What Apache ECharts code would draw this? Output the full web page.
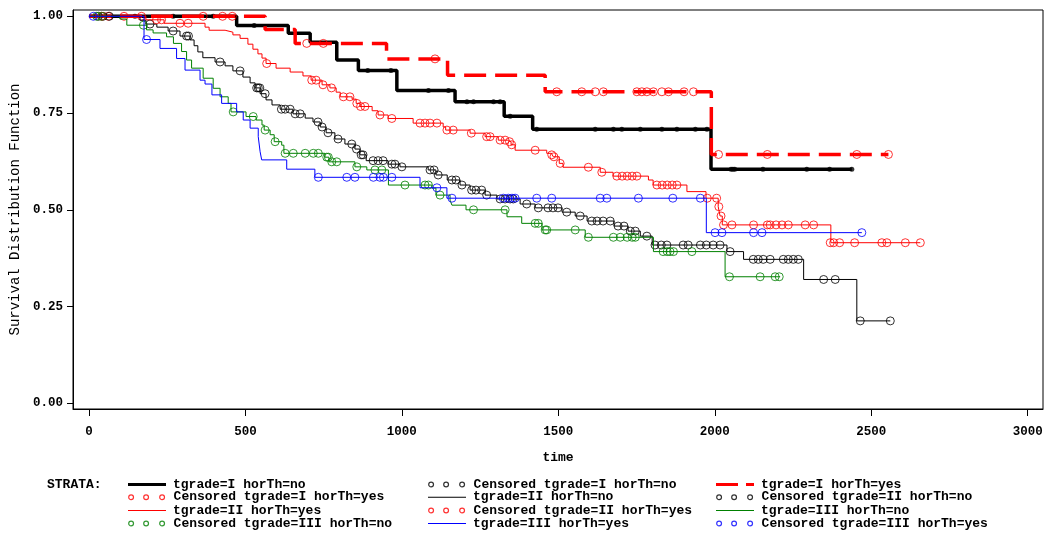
<!DOCTYPE html>
<html><head><meta charset="utf-8">
<script src="https://cdn.jsdelivr.net/npm/echarts@6/dist/echarts.min.js"></script>
<style>html,body{margin:0;padding:0;background:#fff}#c{width:1048px;height:534px}</style>
</head><body><div id="c"></div>
<script>
// ---- tick labels ----
const timeTicks = [0, 500, 1000, 1500, 2000, 2500, 3000];
const survTicks = [0, 0.25, 0.5, 0.75, 1];

// ---- strata names ----
const strata = ['tgrade=I horTh=no', 'tgrade=I horTh=yes', 'tgrade=II horTh=no',
                'tgrade=II horTh=yes', 'tgrade=III horTh=no', 'tgrade=III horTh=yes'];

// ---- KM step curves: [time, survival after the drop] ----
const curveIno = [[0,1],[472,0.976],[637,0.956],[707,0.933],[792,0.887],[861,0.860],[984,0.808],[1170,0.779],[1327,0.742],[1418,0.708],[1988,0.605],[2438,0.605]];
const curveIyes = [[0,1],[563,0.966],[659,0.930],[951,0.890],[1146,0.848],[1458,0.805],[1989,0.643],[2555,0.643]];
const curveIIno = [[0,1],[163,0.990],[182,0.980],[217,0.972],[253,0.962],[291,0.949],[323,0.939],[336,0.924],[348,0.908],[364,0.893],[403,0.882],[435,0.872],[460,0.859],[492,0.843],[515,0.828],[531,0.815],[547,0.800],[566,0.784],[585,0.771],[611,0.760],[652,0.748],[691,0.737],[716,0.727],[739,0.714],[758,0.699],[786,0.683],[818,0.670],[850,0.657],[866,0.642],[886,0.627],[956,0.618],[994,0.611],[1084,0.603],[1109,0.590],[1145,0.577],[1186,0.564],[1218,0.551],[1266,0.538],[1304,0.528],[1378,0.515],[1426,0.505],[1512,0.494],[1554,0.484],[1592,0.471],[1678,0.458],[1723,0.445],[1762,0.432],[1800,0.409],[2039,0.392],[2092,0.372],[2284,0.320],[2454,0.213],[2561,0.213]];
const curveIIyes = [[0,1],[182,0.991],[240,0.982],[371,0.972],[384,0.964],[435,0.959],[460,0.952],[483,0.943],[508,0.928],[524,0.915],[540,0.903],[553,0.892],[566,0.878],[598,0.866],[643,0.856],[684,0.846],[710,0.835],[745,0.823],[770,0.815],[790,0.804],[803,0.792],[841,0.786],[854,0.775],[866,0.767],[905,0.756],[924,0.745],[956,0.736],[1036,0.724],[1132,0.714],[1140,0.706],[1218,0.698],[1266,0.689],[1308,0.680],[1340,0.676],[1349,0.668],[1362,0.654],[1463,0.646],[1478,0.642],[1484,0.637],[1503,0.620],[1515,0.610],[1634,0.597],[1675,0.587],[1788,0.577],[1803,0.564],[1911,0.547],[1972,0.530],[2011,0.508],[2017,0.484],[2024,0.461],[2371,0.415],[2657,0.415]];
const curveIIIno = [[0,1],[99,0.993],[121,0.977],[184,0.965],[205,0.957],[248,0.947],[270,0.930],[296,0.909],[312,0.887],[328,0.866],[365,0.840],[397,0.814],[419,0.792],[445,0.775],[454,0.753],[502,0.741],[534,0.732],[553,0.719],[560,0.706],[579,0.694],[592,0.676],[616,0.667],[623,0.646],[754,0.636],[767,0.624],[850,0.611],[888,0.603],[957,0.564],[1096,0.556],[1109,0.538],[1154,0.525],[1160,0.512],[1205,0.500],[1336,0.482],[1383,0.465],[1448,0.448],[1586,0.429],[1804,0.392],[2033,0.327],[2209,0.327]];
const curveIIIyes = [[0,1],[176,0.940],[227,0.917],[280,0.891],[307,0.861],[355,0.835],[371,0.825],[393,0.797],[424,0.775],[472,0.753],[493,0.732],[515,0.711],[541,0.689],[547,0.650],[552,0.629],[632,0.605],[722,0.584],[1058,0.557],[1144,0.530],[1973,0.441],[2470,0.441]];

// ---- censored observations: [time, survival] ----
const censIno = [[147,1],[269,1],[397,1],[528,0.976],[891,0.860],[965,0.860],[1085,0.808],[1149,0.808],[1208,0.779],[1229,0.779],[1293,0.779],[1314,0.779],[1346,0.742],[1431,0.708],[1618,0.708],[1676,0.708],[1703,0.708],[1762,0.708],[1831,0.708],[1879,0.708],[1938,0.708],[1975,0.708],[2052,0.605],[2058,0.605],[2064,0.605],[2154,0.605],[2294,0.605],[2367,0.605],[2438,0.605]];
const censIyes = [[62,1],[112,1],[168,1],[365,1],[427,1],[458,1],[696,0.930],[749,0.930],[1106,0.890],[1495,0.805],[1575,0.805],[1618,0.805],[1644,0.805],[1751,0.805],[1767,0.805],[1783,0.805],[1804,0.805],[1831,0.805],[1852,0.805],[1902,0.805],[1932,0.805],[2012,0.643],[2168,0.643],[2454,0.643],[2555,0.643]];
const censIIno = [[30,1],[45,1],[65,1],[195,0.980],[269,0.962],[312,0.949],[318,0.949],[419,0.882],[483,0.859],[536,0.815],[541,0.815],[546,0.815],[563,0.800],[615,0.760],[627,0.760],[643,0.760],[659,0.748],[675,0.748],[732,0.727],[745,0.714],[764,0.699],[796,0.683],[840,0.670],[855,0.657],[870,0.642],[876,0.642],[908,0.627],[924,0.627],[940,0.627],[968,0.618],[978,0.618],[1000,0.611],[1090,0.603],[1103,0.603],[1116,0.590],[1160,0.577],[1173,0.577],[1192,0.564],[1223,0.551],[1237,0.551],[1255,0.551],[1271,0.538],[1314,0.528],[1330,0.528],[1346,0.528],[1356,0.528],[1399,0.515],[1436,0.505],[1467,0.505],[1483,0.505],[1499,0.505],[1527,0.494],[1570,0.484],[1607,0.471],[1624,0.471],[1643,0.471],[1666,0.471],[1691,0.458],[1710,0.458],[1730,0.445],[1746,0.445],[1783,0.432],[1809,0.409],[1829,0.409],[1847,0.409],[1899,0.409],[1915,0.409],[1954,0.409],[1973,0.409],[1995,0.409],[2017,0.409],[2049,0.392],[2123,0.372],[2139,0.372],[2155,0.372],[2177,0.372],[2219,0.372],[2235,0.372],[2251,0.372],[2267,0.372],[2348,0.320],[2385,0.320],[2465,0.213],[2561,0.213]];
const censIIyes = [[41,1],[216,0.991],[232,0.991],[291,0.982],[317,0.982],[568,0.878],[712,0.835],[726,0.835],[748,0.823],[775,0.815],[813,0.792],[834,0.792],[856,0.775],[868,0.767],[882,0.767],[930,0.745],[968,0.736],[1058,0.724],[1074,0.724],[1090,0.724],[1112,0.724],[1144,0.706],[1164,0.706],[1222,0.698],[1271,0.689],[1282,0.689],[1314,0.680],[1330,0.680],[1344,0.676],[1351,0.668],[1426,0.654],[1479,0.642],[1486,0.637],[1506,0.620],[1596,0.610],[1639,0.597],[1687,0.587],[1704,0.587],[1720,0.587],[1736,0.587],[1751,0.587],[1815,0.564],[1832,0.564],[1848,0.564],[1864,0.564],[1879,0.564],[1976,0.530],[2006,0.530],[2013,0.508],[2020,0.484],[2028,0.461],[2055,0.461],[2124,0.461],[2168,0.461],[2177,0.461],[2196,0.461],[2215,0.461],[2235,0.461],[2289,0.461],[2316,0.461],[2369,0.415],[2380,0.415],[2399,0.415],[2447,0.415],[2534,0.415],[2550,0.415],[2609,0.415],[2657,0.415]];
const censIIIno = [[25,1],[40,1],[174,0.977],[461,0.753],[525,0.741],[563,0.706],[595,0.676],[627,0.646],[653,0.646],[691,0.646],[717,0.646],[733,0.646],[760,0.636],[765,0.636],[776,0.624],[792,0.624],[856,0.611],[914,0.603],[936,0.603],[1010,0.564],[1074,0.564],[1085,0.564],[1122,0.538],[1229,0.500],[1330,0.500],[1426,0.465],[1436,0.465],[1458,0.448],[1463,0.448],[1554,0.448],[1596,0.429],[1676,0.429],[1698,0.429],[1720,0.429],[1736,0.429],[1746,0.429],[1835,0.392],[1848,0.392],[1857,0.392],[1868,0.392],[1927,0.392],[2047,0.327],[2145,0.327],[2193,0.327],[2206,0.327]];
const censIIIyes = [[14,1],[184,0.940],[733,0.584],[824,0.584],[850,0.584],[909,0.584],[930,0.584],[941,0.584],[968,0.584],[1112,0.557],[1160,0.530],[1324,0.530],[1340,0.530],[1352,0.530],[1362,0.530],[1431,0.530],[1479,0.530],[1634,0.530],[1655,0.530],[1756,0.530],[1866,0.530],[1954,0.530],[2001,0.441],[2023,0.441],[2124,0.441],[2151,0.441],[2470,0.441]];

const curves = [curveIno, curveIyes, curveIIno, curveIIyes, curveIIIno, curveIIIyes];
const censored = [censIno, censIyes, censIIno, censIIyes, censIIIno, censIIIyes];

// ---- styles ----
const colors = ['#000000', '#ff0000', '#000000', '#ff0000', '#008000', '#0000ff'];
const widths = [3.5, 3.5, 1, 1, 1, 1];
const dashes = ['solid', [22, 9], 'solid', 'solid', 'solid', 'solid'];
const MONO = '"Liberation Mono", "DejaVu Sans Mono", monospace';

const bounds = 'M0,0 L0,0 M40,6 L40,6 ';
const iconThick = 'path://' + bounds + 'M0,1.5 H38 V4.5 H0 Z';
const iconThin = 'path://' + bounds + 'M0,2.5 H38 V3.5 H0 Z';
const iconDash = 'path://' + bounds + 'M0,1.5 H22 V4.5 H0 Z M30,1.5 H38 V4.5 H30 Z';
const circ = (cx) => `M${cx - 2.4},3 a2.4,2.4 0 1,0 4.8,0 a2.4,2.4 0 1,0 -4.8,0 `;
const iconCirc = 'path://' + bounds + circ(2.5) + circ(17.5) + circ(33.5);

const series = [];
const legendOrder = [];
strata.forEach((s, i) => {
  series.push({
    name: s, type: 'line', step: 'end', data: curves[i], symbol: 'none', showSymbol: false,
    lineStyle: { color: colors[i], width: widths[i], type: dashes[i] },
    itemStyle: { color: colors[i] }, z: 2 + i, silent: true
  });
  series.push({
    name: 'Censored ' + s, type: 'scatter', data: censored[i],
    symbol: 'circle', symbolSize: i === 0 ? 5 : 8,
    itemStyle: i === 0 ? { color: '#000' } : { color: 'rgba(0,0,0,0)', borderColor: colors[i], borderWidth: 1 },
    z: 2 + i, silent: true
  });
  legendOrder.push({ name: s, icon: widths[i] > 1 ? (Array.isArray(dashes[i]) ? iconDash : iconThick) : iconThin, color: colors[i], line: true });
  legendOrder.push({ name: 'Censored ' + s, icon: iconCirc, color: colors[i], line: false });
});

const colX = [128, 428, 716];
const rowY = [485, 497.7, 511, 524];
const legends = legendOrder.map((it, k) => ({
  data: [it.name], left: colX[k % 3], top: rowY[Math.floor(k / 3)] - 7,
  padding: 0, itemWidth: 40, itemHeight: 6, icon: it.icon, selectedMode: false,
  symbolKeepAspect: false,
  itemStyle: it.line ? { color: it.color, borderWidth: 0 } : { color: 'rgba(0,0,0,0)', borderColor: it.color, borderWidth: 1.2 },
  textStyle: { fontFamily: MONO, fontWeight: 'bold', fontSize: 13, color: '#000' }
}));

const chart = echarts.init(document.getElementById('c'), null, { renderer: 'canvas' });
chart.setOption({
  animation: false,
  backgroundColor: '#fff',
  title: { text: 'STRATA:', left: 47, top: 478, padding: 0,
    textStyle: { fontFamily: MONO, fontWeight: 'bold', fontSize: 13, color: '#000' } },
  legend: legends,
  grid: { left: 73, top: 10, width: 970, height: 399, show: true, borderColor: '#000', borderWidth: 1, outerBoundsMode: 'none' },
  xAxis: {
    type: 'value', min: -51, max: 3049,
    name: 'time', nameLocation: 'middle', nameGap: 42,
    nameTextStyle: { fontFamily: MONO, fontWeight: 'bold', fontSize: 13, color: '#000' },
    axisLine: { show: true, onZero: false, lineStyle: { color: '#000', width: 1 } },
    axisTick: { show: true, length: 7, customValues: timeTicks, lineStyle: { color: '#000' } },
    axisLabel: { customValues: timeTicks, margin: 16, formatter: v => String(v),
      fontFamily: MONO, fontWeight: 'bold', fontSize: 12.5, color: '#000' },
    splitLine: { show: false }
  },
  yAxis: {
    type: 'value', min: -0.0147, max: 1.0163,
    name: 'Survival Distribution Function', nameLocation: 'middle', nameGap: 49,
    nameTextStyle: { fontFamily: MONO, fontSize: 14, color: '#000' },
    axisLine: { show: true, onZero: false, lineStyle: { color: '#000', width: 1 } },
    axisTick: { show: true, length: 6, customValues: survTicks, lineStyle: { color: '#000' } },
    axisLabel: { customValues: survTicks, margin: 10, formatter: v => v.toFixed(2),
      fontFamily: MONO, fontWeight: 'bold', fontSize: 12.5, color: '#000' },
    splitLine: { show: false }
  },
  series: series
});
</script></body></html>
